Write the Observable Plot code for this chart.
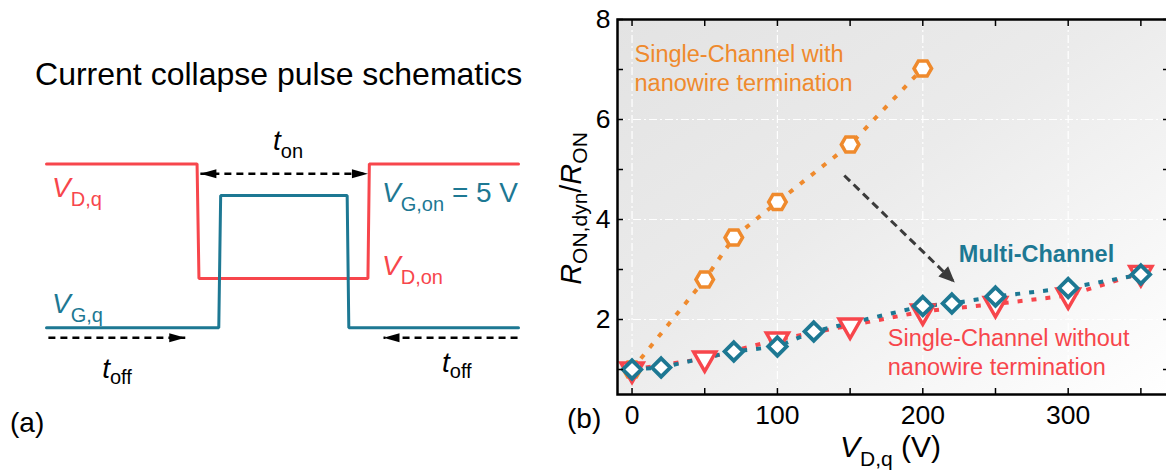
<!DOCTYPE html>
<html>
<head>
<meta charset="utf-8">
<script src="https://cdn.jsdelivr.net/npm/d3@7"></script>
<script src="https://cdn.jsdelivr.net/npm/@observablehq/plot@0.6"></script>
<style>
html, body { margin: 0; padding: 0; background: #fff; width: 1166px; height: 473px; overflow: hidden; }
#wrap { position: relative; width: 1166px; height: 473px; overflow: hidden; }
#a { position: absolute; left: 0; top: 0; }
#b { position: absolute; left: 560px; top: 0; }
text { white-space: pre; }
</style>
</head>
<body>
<div id="wrap"><div id="a"></div><div id="b"></div></div>
<script>
// ---------- Panel (a) data: pulse schematic (time in a.u., level in a.u.) ----------
const pulseT_D = [0, 31.9, 32.3, 68.1, 68.4, 100];
const pulseV_D = [6.2, 6.2, 1.86, 1.86, 6.2, 6.2];
const pulseT_G = [0, 36.5, 36.9, 63.7, 64.05, 100];
const pulseV_G = [0, 0, 5, 5, 0, 0];
const tOnArrow = {t1: 32.6, t2: 68.1, v: 5.83};
const tOffArrows = [{t1: 0.4, t2: 29.4, v: -0.38}, {t1: 99.8, t2: 71.4, v: -0.38}];

// ---------- Panel (b) data ----------
const vWith = [0, 50, 70, 100, 150, 200];
const rWith = [1.0, 2.8, 3.64, 4.35, 5.5, 7.02];
const vWithout = [0, 50, 100, 150, 200, 250, 300, 350];
const rWithout = [1.0, 1.22, 1.6, 1.88, 2.16, 2.31, 2.48, 2.93];
const vMulti = [0, 20, 70, 100, 125, 200, 220, 250, 300, 350];
const rMulti = [1.0, 1.04, 1.36, 1.46, 1.76, 2.27, 2.32, 2.46, 2.63, 2.9];
const xTickLabels = [0, 100, 200, 300];
const xTickMarks = [0, 50, 100, 150, 200, 250, 300, 350];
const yTickLabels = [2, 4, 6, 8];
const yTickMarks = [1, 2, 3, 4, 5, 6, 7, 8];
const yGrid = [2, 4, 6];
const arrowFrom = [146, 4.88];
const arrowTo = [222, 2.74];

const FONT = '"Liberation Sans", Arial, Helvetica, sans-serif';
const ORANGE = "#EF8A2D";
const RED = "#F7464C";
const TEAL = "#1D7893";

function head(len, wid) {
  return (color) => {
    const m = d3.create("svg:marker")
      .attr("viewBox", `0 ${-wid / 2} ${len} ${wid}`)
      .attr("refX", len).attr("refY", 0)
      .attr("markerWidth", len).attr("markerHeight", wid)
      .attr("markerUnits", "userSpaceOnUse")
      .attr("orient", "auto-start-reverse")
      .attr("overflow", "visible");
    m.append("path")
      .attr("d", `M0,${-wid / 2}L${len},0L0,${wid / 2}Z`)
      .attr("fill", color).attr("stroke", "none")
      .attr("stroke-dasharray", "none");
    return m.node();
  };
}

function addRich(svg, x, y, parts, o) {
  const text = d3.select(svg).append("text")
    .attr("transform", `translate(${x},${y})` + (o.rotate ? ` rotate(${o.rotate})` : ""))
    .attr("text-anchor", o.anchor || "start")
    .attr("fill", o.fill || "black")
    .attr("font-family", FONT)
    .attr("font-size", o.size);
  let shifted = 0;
  for (const p of parts) {
    const ts = text.append("tspan").text(p.t);
    const target = p.sub ? o.shift : 0;
    if (target !== shifted) { ts.attr("dy", target - shifted); shifted = target; }
    if (p.sub) ts.attr("font-size", o.subSize);
    if (p.it) ts.attr("font-style", "italic");
  }
}

// ---------- Panel (a) ----------
const dPulse = pulseT_D.map((t, i) => ({t, v: pulseV_D[i]}));
const gPulse = pulseT_G.map((t, i) => ({t, v: pulseV_G[i]}));
const headA = head(16, 9);

const plotA = Plot.plot({
  width: 560, height: 473,
  marginLeft: 46, marginRight: 42, marginTop: 63, marginBottom: 93,
  x: {domain: [0, 100], axis: null},
  y: {domain: [-2, 10], axis: null},
  style: {fontFamily: FONT, background: "transparent", overflow: "visible", maxWidth: "none"},
  marks: [
    Plot.line(dPulse, {x: "t", y: "v", stroke: RED, strokeWidth: 3, strokeLinejoin: "miter"}),
    Plot.line(gPulse, {x: "t", y: "v", stroke: TEAL, strokeWidth: 3, strokeLinejoin: "miter"}),
    Plot.link([tOnArrow], {x1: "t1", x2: "t2", y1: "v", y2: "v", stroke: "black", strokeWidth: 2.5,
      strokeDasharray: "7,5", markerStart: headA, markerEnd: headA}),
    Plot.link(tOffArrows, {x1: "t1", x2: "t2", y1: "v", y2: "v", stroke: "black", strokeWidth: 2.5,
      strokeDasharray: "7,5", markerEnd: headA})
  ]
});
document.getElementById("a").appendChild(plotA);
{
  const sx = plotA.scale("x"), sy = plotA.scale("y");
  const X = (t) => sx.apply(t), Y = (v) => sy.apply(v);
  const big = {size: 28, subSize: 20, shift: 9};
  addRich(plotA, X(49.3), Y(9.17), [{t: "Current collapse pulse schematics"}], {size: 32, anchor: "middle"});
  addRich(plotA, X(1.27), Y(4.92), [{t: "V", it: true}, {t: "D,q", sub: true}], {...big, fill: RED});
  addRich(plotA, X(1.27), Y(0.53), [{t: "V", it: true}, {t: "G,q", sub: true}], {...big, fill: TEAL});
  addRich(plotA, X(48.1), Y(6.71), [{t: "t", it: true}, {t: "on", sub: true}], {...big, shift: 8});
  addRich(plotA, X(11.9), Y(-1.92), [{t: "t", it: true}, {t: "off", sub: true}], {...big, shift: 6});
  addRich(plotA, X(83.9), Y(-1.70), [{t: "t", it: true}, {t: "off", sub: true}], {...big, shift: 6});
  addRich(plotA, X(71.2), Y(4.74), [{t: "V", it: true}, {t: "G,on", sub: true}, {t: " = 5 V"}], {...big, fill: TEAL});
  addRich(plotA, X(71.2), Y(1.98), [{t: "V", it: true}, {t: "D,on", sub: true}], {...big, fill: RED});
  addRich(plotA, X(-7.63), Y(-3.97), [{t: "(a)"}], {size: 28});
}

// ---------- Panel (b) ----------
const withData = vWith.map((v, i) => ({v, r: rWith[i]}));
const withoutData = vWithout.map((v, i) => ({v, r: rWithout[i]}));
const multiData = vMulti.map((v, i) => ({v, r: rMulti[i]}));

const defsMark = () => {
  const defs = d3.create("svg:defs");
  const g = defs.append("linearGradient").attr("id", "bgGrad")
    .attr("x1", 0).attr("y1", 0).attr("x2", 1).attr("y2", 1);
  g.append("stop").attr("offset", "0%").attr("stop-color", "#e3e3e3");
  g.append("stop").attr("offset", "45%").attr("stop-color", "#ebebeb");
  g.append("stop").attr("offset", "100%").attr("stop-color", "#ffffff");
  return defs.node();
};

const lineStyle = {strokeWidth: 4, strokeDasharray: "5,9", strokeLinecap: "butt"};
const plainNotes = [
  {x: 1.7, y: 6.58, text: "Single-Channel with\nnanowire termination", color: ORANGE},
  {x: 175.9, y: 0.9, text: "Single-Channel without\nnanowire termination", color: RED}
];
const boldNotes = [
  {x: 224.8, y: 3.16, text: "Multi-Channel", color: TEAL}
];

const plotB = Plot.plot({
  width: 610, height: 473,
  marginLeft: 57, marginRight: 2, marginTop: 19, marginBottom: 79,
  x: {domain: [-10, 369]},
  y: {domain: [0.5, 8]},
  style: {fontFamily: FONT, background: "transparent", overflow: "visible", maxWidth: "none", color: "black"},
  marks: [
    defsMark,
    Plot.frame({fill: "url(#bgGrad)", stroke: "none"}),
    Plot.gridX(xTickLabels, {stroke: "white", strokeOpacity: 1, strokeWidth: 1.2, strokeDasharray: "8,3,2,3"}),
    Plot.gridY(yGrid, {stroke: "white", strokeOpacity: 1, strokeWidth: 1.2, strokeDasharray: "8,3,2,3"}),
    Plot.line(withData, {x: "v", y: "r", stroke: ORANGE, ...lineStyle}),
    Plot.line(withoutData, {x: "v", y: "r", stroke: RED, ...lineStyle}),
    Plot.line(multiData, {x: "v", y: "r", stroke: TEAL, ...lineStyle}),
    Plot.link([{x1: arrowFrom[0], y1: arrowFrom[1], x2: arrowTo[0], y2: arrowTo[1]}],
      {x1: "x1", y1: "y1", x2: "x2", y2: "y2", stroke: "#3b3b3b", strokeWidth: 3,
       strokeDasharray: "8,5", markerEnd: head(16, 14)}),
    Plot.dot(withData, {x: "v", y: "r", symbol: "hexagon", r: 7.6, rotate: 90, fill: "white", stroke: ORANGE, strokeWidth: 3.5}),
    Plot.dot(withoutData, {x: "v", y: "r", symbol: "triangle", r: 8.2, rotate: 180, fill: "white", stroke: RED, strokeWidth: 3.5}),
    Plot.dot(multiData, {x: "v", y: "r", symbol: "diamond2", r: 8.3, fill: "white", stroke: TEAL, strokeWidth: 3.8}),
    Plot.text(plainNotes, {x: "x", y: "y", text: "text", fill: "color",
      textAnchor: "start", lineAnchor: "bottom", fontSize: 23.5, lineHeight: 1.2}),
    Plot.text(boldNotes, {x: "x", y: "y", text: "text", fill: "color", fontWeight: "bold",
      textAnchor: "start", lineAnchor: "bottom", fontSize: 23.5}),
    Plot.frame({stroke: "black", strokeWidth: 2.5}),
    Plot.axisX(xTickMarks, {tickSize: -6, fill: "none", label: null, strokeWidth: 1.5}),
    Plot.axisX(xTickMarks, {anchor: "top", tickSize: -6, fill: "none", label: null, strokeWidth: 1.5}),
    Plot.axisX(xTickLabels, {tickSize: 0, tickPadding: 11, fontSize: 26.5, label: null, tickFormat: d3.format("d")}),
    Plot.axisY(yTickMarks, {tickSize: -6, fill: "none", label: null, strokeWidth: 1.5}),
    Plot.axisY(yTickMarks, {anchor: "right", tickSize: -6, fill: "none", label: null, strokeWidth: 1.5}),
    Plot.axisY(yTickLabels, {tickSize: 0, tickPadding: 7, fontSize: 26.5, label: null, tickFormat: d3.format("d")})
  ]
});
document.getElementById("b").appendChild(plotB);
{
  const sx = plotB.scale("x"), sy = plotB.scale("y");
  const [x0, x1] = sx.range, [y0, y1] = sy.range;
  const cx = (x0 + x1) / 2, cy = (y0 + y1) / 2;
  addRich(plotB, cx - 2, 457, [{t: "V", it: true}, {t: "D,q", sub: true}, {t: " (V)"}],
    {size: 30, subSize: 21, shift: 9, anchor: "middle"});
  addRich(plotB, 21, cy + 2, [{t: "R", it: true}, {t: "ON,dyn", sub: true}, {t: "/"}, {t: "R", it: true}, {t: "ON", sub: true}],
    {size: 29, subSize: 21, shift: 6, anchor: "middle", rotate: -90});
  addRich(plotB, 7, 428, [{t: "(b)"}], {size: 28});
}
</script>
</body>
</html>
